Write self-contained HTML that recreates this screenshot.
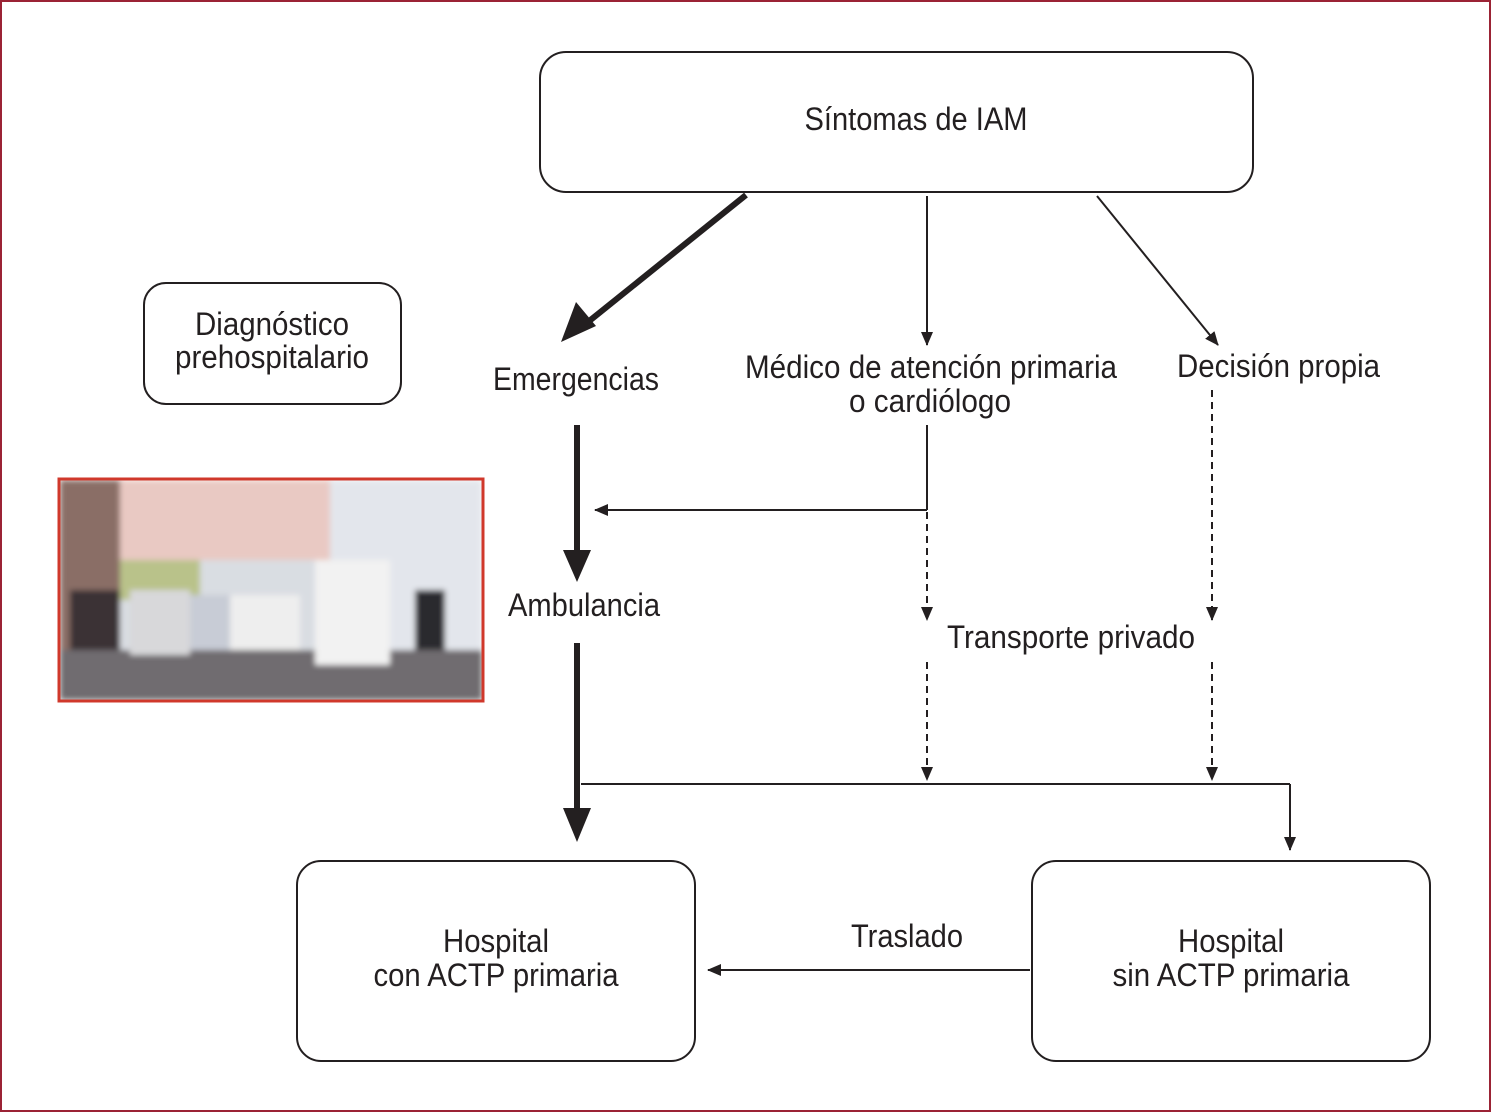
<!DOCTYPE html>
<html><head><meta charset="utf-8"><style>
html,body{margin:0;padding:0;background:#fff;}
svg{display:block;}
text{font-family:"Liberation Sans Narrow","Liberation Sans",sans-serif;font-size:32px;fill:#231f20;}
</style></head><body>
<svg width="1491" height="1112" viewBox="0 0 1491 1112" xmlns="http://www.w3.org/2000/svg">
<defs>
<marker id="ah" markerWidth="14" markerHeight="14" refX="13" refY="7" orient="auto" markerUnits="userSpaceOnUse" viewBox="0 0 14 14">
<path d="M0,1 L14,7 L0,13 z" fill="#231f20"/></marker>
<filter id="bl"><feGaussianBlur stdDeviation="3"/></filter>
</defs>
<rect x="1" y="1" width="1489" height="1110" fill="none" stroke="#9b2335" stroke-width="2"/>
<g fill="none" stroke="#231f20" stroke-width="2">
<rect x="540" y="52" width="713" height="140" rx="26"/>
<rect x="144" y="283" width="257" height="121" rx="22"/>
<rect x="297" y="861" width="398" height="200" rx="24"/>
<rect x="1032" y="861" width="398" height="200" rx="24"/>
</g>
<g>
<clipPath id="pc"><rect x="60" y="480" width="422" height="220"/></clipPath>
<g clip-path="url(#pc)" filter="url(#bl)">
<rect x="60" y="480" width="422" height="220" fill="#d9dde2"/>
<rect x="120" y="480" width="220" height="80" fill="#e9c9c3"/>
<rect x="330" y="480" width="152" height="200" fill="#e3e6ec"/>
<rect x="60" y="480" width="60" height="200" fill="#8a6e66"/>
<rect x="120" y="560" width="80" height="40" fill="#b9c28a"/>
<rect x="60" y="650" width="422" height="50" fill="#6f6c70"/>
<rect x="130" y="590" width="60" height="65" fill="#d8d8da"/>
<rect x="230" y="595" width="70" height="55" fill="#eeeeee"/>
<rect x="315" y="560" width="75" height="105" fill="#f2f2f2"/>
<rect x="190" y="595" width="40" height="55" fill="#c8ccd6"/>
<rect x="415" y="590" width="30" height="60" fill="#2c2a2e"/>
<rect x="70" y="590" width="50" height="60" fill="#3a3236"/>
</g>
<rect x="59" y="479" width="424" height="222" fill="none" stroke="#d0382b" stroke-width="3"/>
</g>
<text x="916" y="130" text-anchor="middle" textLength="223" lengthAdjust="spacingAndGlyphs">Síntomas de IAM</text>
<text x="272" y="335" text-anchor="middle" textLength="154" lengthAdjust="spacingAndGlyphs">Diagnóstico</text>
<text x="272" y="368" text-anchor="middle" textLength="194" lengthAdjust="spacingAndGlyphs">prehospitalario</text>
<text x="493" y="390" textLength="166" lengthAdjust="spacingAndGlyphs">Emergencias</text>
<text x="745" y="378" textLength="372" lengthAdjust="spacingAndGlyphs">Médico de atención primaria</text>
<text x="930" y="412" text-anchor="middle" textLength="162" lengthAdjust="spacingAndGlyphs">o cardiólogo</text>
<text x="1177" y="377" textLength="203" lengthAdjust="spacingAndGlyphs">Decisión propia</text>
<text x="508" y="616" textLength="152" lengthAdjust="spacingAndGlyphs">Ambulancia</text>
<text x="947" y="648" textLength="248" lengthAdjust="spacingAndGlyphs">Transporte privado</text>
<text x="851" y="947" textLength="112" lengthAdjust="spacingAndGlyphs">Traslado</text>
<text x="496" y="952" text-anchor="middle" textLength="106" lengthAdjust="spacingAndGlyphs">Hospital</text>
<text x="496" y="986" text-anchor="middle" textLength="245" lengthAdjust="spacingAndGlyphs">con ACTP primaria</text>
<text x="1231" y="952" text-anchor="middle" textLength="106" lengthAdjust="spacingAndGlyphs">Hospital</text>
<text x="1231" y="986" text-anchor="middle" textLength="237" lengthAdjust="spacingAndGlyphs">sin ACTP primaria</text>
<g stroke="#231f20" stroke-width="6" fill="none">
<line x1="746" y1="195" x2="588" y2="322"/>
<line x1="577" y1="425" x2="577" y2="555"/>
<line x1="577" y1="643" x2="577" y2="812"/>
</g>
<g fill="#231f20">
<path d="M561,342 L576,302 L596,326 z"/>
<path d="M577,582 L563,550 L591,550 z"/>
<path d="M577,842 L563,808 L591,808 z"/>
</g>
<g stroke="#231f20" stroke-width="2" fill="none">
<line x1="927" y1="196" x2="927" y2="345" marker-end="url(#ah)"/>
<line x1="1097" y1="196" x2="1218" y2="345" marker-end="url(#ah)"/>
<line x1="927" y1="425" x2="927" y2="510"/>
<line x1="927" y1="510" x2="595" y2="510" marker-end="url(#ah)"/>
<line x1="581" y1="784" x2="1290" y2="784"/>
<line x1="1290" y1="784" x2="1290" y2="850" marker-end="url(#ah)"/>
<line x1="1030" y1="970" x2="708" y2="970" marker-end="url(#ah)"/>
</g>
<g stroke="#231f20" stroke-width="2" fill="none" stroke-dasharray="7,5">
<line x1="927" y1="512" x2="927" y2="620" marker-end="url(#ah)"/>
<line x1="1212" y1="390" x2="1212" y2="620" marker-end="url(#ah)"/>
<line x1="927" y1="662" x2="927" y2="780" marker-end="url(#ah)"/>
<line x1="1212" y1="662" x2="1212" y2="780" marker-end="url(#ah)"/>
</g>
</svg>
</body></html>
